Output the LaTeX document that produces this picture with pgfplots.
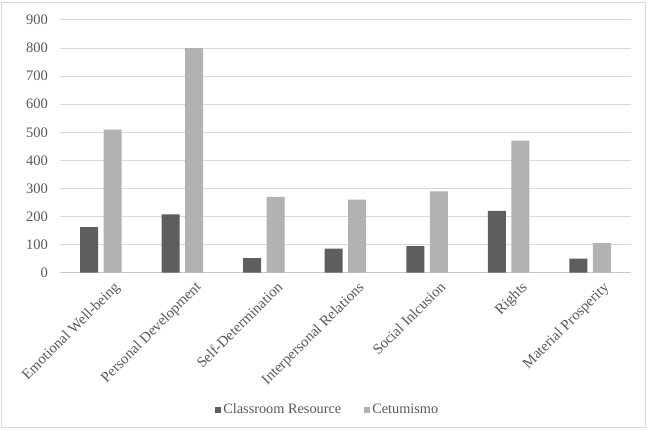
\documentclass[border=0pt]{standalone}
\usepackage{fontspec}
\setmainfont{Liberation Serif}
\usepackage{pgfplots}
\pgfplotsset{compat=1.18}
\definecolor{darkbar}{HTML}{5E5E5E}
\definecolor{lightbar}{HTML}{B2B2B2}
\definecolor{gridgray}{HTML}{D9D9D9}
\definecolor{axisgray}{HTML}{C8C8C8}
\definecolor{txtgray}{HTML}{595959}
\definecolor{framegray}{HTML}{D9D9D9}

\begin{document}
\begin{tikzpicture}[x=1pt,y=1pt]
\useasboundingbox (0,0) rectangle (649,431);
\fill[white] (0,0) rectangle (649,431);
\draw[framegray, line width=1pt] (1.5,3) rectangle (645.5,428);
\begin{axis}[
  at={(60pt,158.3pt)}, anchor=south west,
  scale only axis, width=571pt, height=252.7pt,
  xmin=-0.5, xmax=6.5, ymin=0, ymax=900,
  ytick={0,100,...,900},
  xtick={0,...,6},
  xticklabels={Emotional Well-being, Personal Development, Self-Determination,
    Interpersonal Relations, Social Inlcusion, Rights, Material Prosperity},
  ybar=5.5pt, bar width=18pt,
  axis x line*=bottom, axis y line*=left,
  x axis line style={draw=axisgray, line width=1pt, -},
  y axis line style={draw=none},
  ymajorgrids, grid style={draw=gridgray, line width=1pt},
  major tick length=0pt, tick style={draw=none},
  /pgf/number format/assume math mode=true,
  ticklabel style={text=txtgray},
  yticklabel style={font=\fontsize{14.5}{16}\selectfont, inner sep=0pt, xshift=-12pt},
  xticklabel style={font=\fontsize{14.8}{16}\selectfont, rotate=45, anchor=north east,
    inner sep=0pt, xshift=3pt, yshift=-14pt},
  legend style={at={(0.469,-0.542)}, anchor=center, draw=none, fill=none,
    font=\fontsize{14.3}{16}\selectfont, text=txtgray,
    legend columns=2, column sep=0pt,
    /tikz/every even column/.append style={column sep=21pt},
    nodes={inner sep=2pt}},
  legend image code/.code={\fill[#1,draw=none] (0pt,-3pt) rectangle (6pt,3pt);},
  legend cell align=left,
]
\addplot[fill=darkbar, draw=none] coordinates {
  (0,162) (1,208) (2,52) (3,86) (4,95) (5,220) (6,50)};
\addplot[fill=lightbar, draw=none] coordinates {
  (0,510) (1,800) (2,270) (3,260) (4,290) (5,470) (6,105)};
\legend{Classroom Resource, Cetumismo}
\end{axis}
\end{tikzpicture}
\end{document}
